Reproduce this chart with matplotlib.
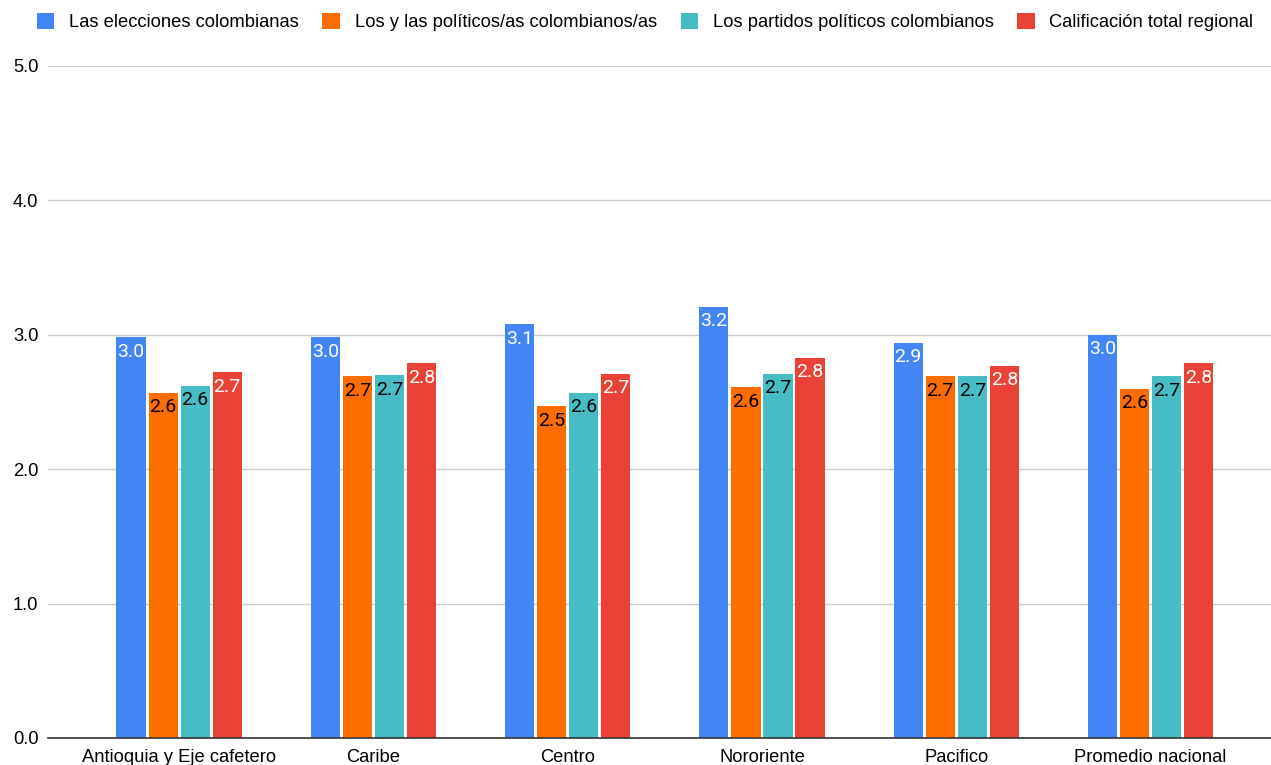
import numpy as np
import matplotlib
matplotlib.use("Agg")
import matplotlib.pyplot as plt

plt.rcParams['font.family'] = ['Liberation Sans', 'DejaVu Sans']

regions = ["Antioquia y Eje cafetero", "Caribe", "Centro", "Nororiente",
           "Pacifico", "Promedio nacional"]
series_names = ["Las elecciones colombianas",
                "Los y las políticos/as colombianos/as",
                "Los partidos políticos colombianos",
                "Calificación total regional"]
elecciones = [2.98, 2.98, 3.08, 3.21, 2.94, 3.00]
politicos = [2.57, 2.69, 2.47, 2.61, 2.69, 2.60]
partidos = [2.62, 2.70, 2.57, 2.71, 2.69, 2.69]
total = [2.72, 2.79, 2.71, 2.83, 2.77, 2.79]
y_ticks = [0, 1, 2, 3, 4, 5]

colors = ["#4285F4", "#FF6D01", "#46BDC6", "#EA4335"]
label_colors = ["white", "black", "black", "white"]

fig = plt.figure(figsize=(12.71, 7.65), dpi=100)
ax = fig.add_axes([48 / 1271, 27 / 765, 1 - 48 / 1271, 672 / 765])

x = np.arange(len(regions))
width = 0.15
step = 0.165
for i, (vals, c, lc, name) in enumerate(zip([elecciones, politicos, partidos, total],
                                             colors, label_colors, series_names)):
    pos = x + (i - 1.5) * step
    bars = ax.bar(pos, vals, width, color=c, label=name, zorder=2)
    for b, v in zip(bars, vals):
        ax.annotate(f"{v:.1f}", (b.get_x() + b.get_width() / 2, v),
                    xytext=(0, -4), textcoords="offset points",
                    ha="center", va="top", color=lc, fontsize=14,
                    family=["Roboto", "DejaVu Sans"], zorder=3)

ax.set_xlim(-0.675, 5.62)
ax.set_ylim(0, 5)
ax.set_yticks(y_ticks)
ax.set_yticklabels([f"{t:.1f}" for t in y_ticks], fontsize=13.2)
ax.set_xticks(x)
ax.set_xticklabels(regions, fontsize=13.2)
ax.tick_params(length=0, pad=7)
ax.tick_params(axis='x', pad=8)
ax.grid(axis='y', color='#cccccc', linewidth=1, zorder=0)
for s in ['top', 'right', 'left']:
    ax.spines[s].set_visible(False)
ax.spines['bottom'].set_color('#333333')
ax.spines['bottom'].set_linewidth(1.2)
ax.spines['bottom'].set_zorder(4)

fig.legend(loc='upper left', bbox_to_anchor=(24 / 1271, 1.0), ncol=4,
           frameon=False, fontsize=13.2, handlelength=0.95, handleheight=0.95,
           columnspacing=1.3, handletextpad=0.8, borderaxespad=0.3)

fig.savefig("out.png", dpi=100)
